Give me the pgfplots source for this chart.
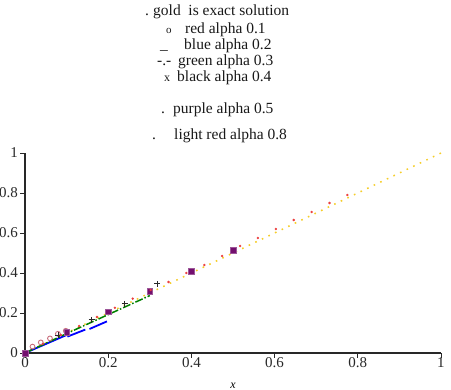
\documentclass[border=0pt]{standalone}
\usepackage{pgfplots}
\pgfplotsset{compat=1.18}
\usepackage{fontspec}
\setmainfont{Liberation Serif}
\definecolor{goldc}{RGB}{245,205,40}
\definecolor{rosy}{RGB}{200,110,125}
\definecolor{lred}{RGB}{235,60,60}
\definecolor{purp}{RGB}{115,15,110}
\definecolor{axgray}{RGB}{40,40,40}
\begin{document}
\begin{tikzpicture}
\begin{axis}[
  scale only axis, width=416pt, height=200pt,
  xmin=0, xmax=1, ymin=0, ymax=1,
  axis lines=left, axis line style={-, axgray, line width=1.1pt},
  clip=false,
  xtick={0,0.2,0.4,0.6,0.8,1}, ytick={0,0.2,0.4,0.6,0.8,1},
  tick align=outside, major tick length=5pt,
  tick style={axgray, line width=0.8pt},
  /pgf/number format/assume math mode=true,
  ticklabel style={font=\fontsize{15}{17}\selectfont, inner sep=2pt, text=axgray},
  xticklabel style={yshift=3pt},
  xlabel={\textit{x}},
  xlabel style={at={(axis description cs:0.5,-0.165)}, anchor=center, font=\fontsize{12}{14}\selectfont},
]
% exact solution (gold, dotted)
\addplot[goldc, line width=1.5pt, dash pattern=on 1.6pt off 5.7pt] coordinates {(0,0) (1,1)};
% red alpha 0.1
\addplot[only marks, mark=o, mark size=2.4pt, rosy, mark options={line width=0.9pt}] coordinates {
(0,0) (0.018,0.032) (0.038,0.053) (0.06,0.073) (0.079,0.096) (0.098,0.111)};
% blue alpha 0.2
\addplot[blue, line width=1.8pt, unbounded coords=jump] coordinates {
(0,0) (0.05,0.045) (0.1,0.09) (0.1,inf) (0.102,0.082) (0.145,0.117) (0.145,inf) (0.155,0.12) (0.197,0.158)};
% green alpha 0.3
\addplot[green!50!black, line width=1.5pt, dash pattern=on 8pt off 2pt on 1.5pt off 2pt] coordinates {
(0,0) (0.1,0.097) (0.2,0.192) (0.3,0.287)};
% black alpha 0.4
\addplot[only marks, mark=+, mark size=3pt, axgray, mark options={line width=1pt}] coordinates {
(0,0) (0.08,0.088) (0.16,0.165) (0.24,0.245) (0.318,0.345)};
% purple alpha 0.5
\addplot[only marks, mark=square*, mark size=2.8pt, purp, mark options={fill=purp, draw=purp!70!white}] coordinates {
(0,0) (0.1,0.105) (0.2,0.206) (0.3,0.31) (0.4,0.41) (0.5,0.515)};
% light red alpha 0.8
\addplot[only marks, mark=*, mark size=1pt, lred] coordinates {
(0.043,0.046) (0.086,0.09) (0.13,0.135) (0.173,0.18) (0.216,0.226) (0.259,0.272)
(0.302,0.315) (0.345,0.355) (0.388,0.40) (0.431,0.44) (0.474,0.485) (0.517,0.535)
(0.56,0.575) (0.603,0.62) (0.646,0.665) (0.689,0.705) (0.732,0.75) (0.775,0.79)};
\end{axis}
\begin{scope}[every node/.style={anchor=base west, inner sep=0pt, font=\fontsize{15.5}{17}\selectfont, text=black!90}]
\node at (120pt,337pt) {.};
\node at (128pt,337pt) {gold\ \ is exact solution};
\node at (141pt,319pt) {\fontsize{11}{12}\selectfont o};
\node at (160pt,319pt) {red alpha 0.1};
\node at (135pt,303.7pt) {\_};
\node at (159pt,303.7pt) {blue alpha 0.2};
\node at (132pt,287.7pt) {-.-};
\node at (153pt,287.7pt) {green alpha 0.3};
\node at (139pt,271.3pt) {\fontsize{12}{13}\selectfont x};
\node at (152pt,271.3pt) {black alpha 0.4};
\node at (136pt,239.7pt) {.};
\node at (148pt,239.7pt) {purple alpha 0.5};
\node at (127pt,213pt) {.};
\node at (149pt,213pt) {light red alpha 0.8};
\end{scope}
\pgfresetboundingbox
\useasboundingbox (-25pt,-37pt) rectangle (426pt,353pt);
\end{tikzpicture}
\end{document}
